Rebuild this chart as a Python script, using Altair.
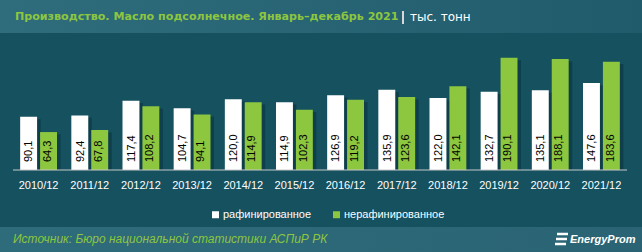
import altair as alt
import pandas as pd

# ---- data ----
periods = ["2010/12", "2011/12", "2012/12", "2013/12", "2014/12", "2015/12",
           "2016/12", "2017/12", "2018/12", "2019/12", "2020/12", "2021/12"]
refined = [90.1, 92.4, 117.4, 104.7, 120.0, 114.9, 126.9, 135.9, 122.0, 132.7, 135.1, 147.6]
unrefined = [64.3, 67.8, 108.2, 94.1, 114.9, 102.3, 119.2, 123.6, 142.1, 190.1, 188.1, 183.6]
series = ["рафинированное", "нерафинированное"]
y_ticks = [50, 100, 150, 200]
title_main = "Производство. Масло подсолнечное. Январь–декабрь 2021"
title_unit = "тыс. тонн"
source_text = "Источник: Бюро национальной статистики АСПиР РК"
brand = "EnergyProm"

rows = []
for p, r, u in zip(periods, refined, unrefined):
    rows.append({"period": p, "series": series[0], "value": r})
    rows.append({"period": p, "series": series[1], "value": u})
df = pd.DataFrame(rows)
df["label"] = df["value"].map(lambda v: f"{v:.1f}".replace(".", ","))

FONT = "Liberation Sans"
WIDE = "DejaVu Sans"
BG = "#15515f"
GREEN = "#8dc63f"
W, H = 614, 118
BANDW = W / 12 * 0.72

one = pd.DataFrame({"a": [0]})

header = alt.Chart(one).mark_rect(
    color=alt.Gradient(gradient="linear", x1=0, x2=1, y1=0, y2=0,
                       stops=[alt.GradientStop(offset=0, color="#2f6d7c"),
                              alt.GradientStop(offset=1, color="#205b6c")])
).encode(x=alt.value(-13), x2=alt.value(629), y=alt.value(-52), y2=alt.value(-19))

footer = alt.Chart(one).mark_rect(
    color=alt.Gradient(gradient="linear", x1=0, x2=1, y1=0, y2=0,
                       stops=[alt.GradientStop(offset=0, color="#2f6c7b"),
                              alt.GradientStop(offset=1, color="#2a6474")])
).encode(x=alt.value(-13), x2=alt.value(629), y=alt.value(175), y2=alt.value(200))

title_t = alt.Chart(pd.DataFrame({"t": [title_main]})).mark_text(
    align="left", baseline="middle", font=WIDE, fontSize=11.1, fontWeight="bold", color=GREEN
).encode(x=alt.value(2), y=alt.value(-35), text="t:N")

sep = alt.Chart(one).mark_rule(color="#d8d8d8", strokeWidth=2).encode(
    x=alt.value(390), y=alt.value(-41), y2=alt.value(-28))

unit_t = alt.Chart(pd.DataFrame({"t": [title_unit]})).mark_text(
    align="left", baseline="middle", font=WIDE, fontSize=12, color="#ffffff"
).encode(x=alt.value(397), y=alt.value(-35), text="t:N")

src_t = alt.Chart(pd.DataFrame({"t": [source_text]})).mark_text(
    align="left", baseline="middle", font=FONT, fontSize=12, fontStyle="italic", color=GREEN
).encode(x=alt.value(0), y=alt.value(187), text="t:N")

brand_t = alt.Chart(pd.DataFrame({"t": [brand]})).mark_text(
    align="left", baseline="middle", font=FONT, fontSize=11, fontStyle="italic",
    fontWeight="bold", color="#ffffff"
).encode(x=alt.value(557), y=alt.value(188), text="t:N")

icon = [alt.Chart(one).mark_rule(color="#ffffff", strokeWidth=2.5).encode(
    x=alt.value(543 + k), x2=alt.value(554 + k), y=alt.value(yy), y2=alt.value(yy))
    for k, yy in [(1, 182), (0, 187), (-1, 192)]]

x_enc = alt.X("period:N", sort=periods,
              scale=alt.Scale(paddingInner=0.28, paddingOuter=0.14),
              axis=alt.Axis(title=None, labelAngle=0, labelColor="#ffffff",
                            labelFontSize=11, labelFont=FONT, ticks=False,
                            domain=False, labelPadding=9))
xo_enc = alt.XOffset("series:N", sort=series, scale=alt.Scale(paddingInner=0.15))
y_enc = alt.Y("value:Q", scale=alt.Scale(domain=[0, 200], nice=False),
              axis=alt.Axis(title=None, values=y_ticks, labels=False, ticks=False,
                            domain=False, grid=True, gridColor="#3199bb",
                            gridDash=[4, 3], gridWidth=1))

shadow = alt.Chart(df).transform_calculate(sv="datum.value - 4").mark_bar(
    color="#062a33", opacity=0.45
).encode(
    x=x_enc,
    xOffset=alt.XOffset("series:N", sort=series,
                        scale=alt.Scale(paddingInner=0.15, range=[3.5, BANDW + 3.5])),
    y=alt.Y("sv:Q", scale=alt.Scale(domain=[0, 200], nice=False), axis=None),
)

bars = alt.Chart(df).mark_bar().encode(
    x=x_enc, xOffset=xo_enc, y=y_enc,
    color=alt.Color("series:N", sort=series,
                    scale=alt.Scale(domain=series, range=["#ffffff", GREEN]),
                    legend=alt.Legend(title=None, orient="none", legendX=197, legendY=157,
                                      direction="horizontal", symbolType="square",
                                      symbolSize=49, symbolStrokeWidth=0,
                                      labelColor="#ffffff", labelFontSize=11,
                                      labelFont=FONT, columnPadding=19, labelOffset=2))
)

labels = alt.Chart(df).mark_text(
    angle=270, align="left", baseline="middle", dx=8, font=FONT, fontSize=11, color="#000000"
).encode(x=x_enc, xOffset=xo_enc, y=alt.value(H), text="label:N")

baseline = alt.Chart(one).mark_rule(color="#c8c8c8", strokeWidth=1).encode(
    x=alt.value(0), x2=alt.value(W), y=alt.value(H))

chart = alt.layer(
    header, footer, shadow, bars, labels, baseline, title_t, sep, unit_t, src_t, brand_t, *icon
).resolve_scale(xOffset="independent").properties(
    width=W, height=H,
    padding={"left": 13, "top": 52, "right": 15, "bottom": 82},
    autosize=alt.AutoSizeParams(type="none"),
    background=BG,
).configure_view(stroke=None)

chart.save("out.html", embed_options={"renderer": "svg", "actions": False})
